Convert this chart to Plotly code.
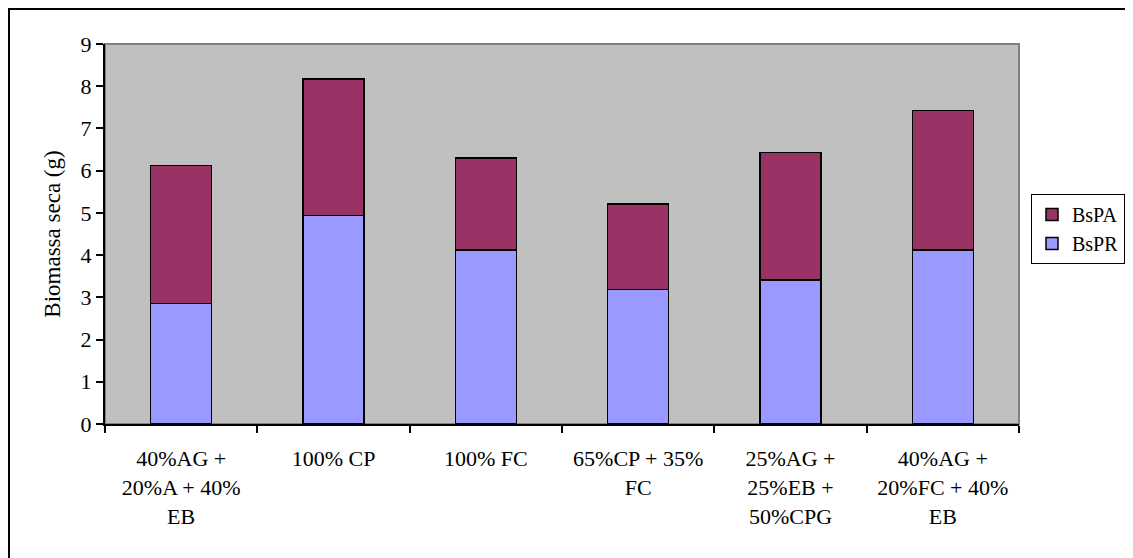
import plotly.graph_objects as go

categories = ["40%AG +<br>20%A + 40%<br>EB", "100% CP", "100% FC",
              "65%CP + 35%<br>FC", "25%AG +<br>25%EB +<br>50%CPG",
              "40%AG +<br>20%FC + 40%<br>EB"]
bspr = [2.85, 4.94, 4.12, 3.19, 3.41, 4.12]
bspa_total = [6.12, 8.17, 6.30, 5.21, 6.43, 7.43]
bspa = [round(t - r, 2) for t, r in zip(bspa_total, bspr)]

FONT = "Liberation Serif, Times New Roman, serif"

fig = go.Figure()
fig.add_trace(go.Bar(name="BsPR", x=categories, y=bspr,
                     marker=dict(color="#9999FF", line=dict(color="black", width=1.5))))
fig.add_trace(go.Bar(name="BsPA", x=categories, y=bspa,
                     marker=dict(color="#993366", line=dict(color="black", width=1.5))))

# page is shown with an 8px body margin, so figure coords = page coords - 8
OFF = 8
W, H = 1133, 558
L, R, T, B = 105 - OFF, W - (1019 - OFF), 44 - OFF, H - (424 - OFF)
pw, ph = W - L - R, H - T - B

def px2paper_x(px):
    return (px - OFF - L) / pw

def px2paper_y(py):
    return (H - B - (py - OFF)) / ph

fig.update_layout(
    width=W, height=H,
    margin=dict(l=L, r=R, t=T, b=B, autoexpand=False),
    barmode="stack", bargap=0.6,
    paper_bgcolor="white", plot_bgcolor="#C0C0C0",
    font=dict(family=FONT, size=22, color="black"),
    showlegend=True,
    legend=dict(xref="container", yref="container",
                x=(1031 - OFF) / W, y=1 - (194 - OFF) / H,
                xanchor="left", yanchor="top",
                bordercolor="black", borderwidth=1, bgcolor="white",
                traceorder="reversed", font=dict(size=20, family=FONT),
                itemwidth=30, tracegroupgap=0),
    xaxis=dict(showline=True, linecolor="black", linewidth=2,
               ticks="outside", ticklen=7, tickcolor="black", tickwidth=1.5,
               tickson="boundaries", showgrid=False, zeroline=False,
               ticklabelstandoff=14, automargin=False,
               tickfont=dict(size=22, family=FONT)),
    yaxis=dict(range=[0, 9], dtick=1, showline=True, linecolor="black", linewidth=2,
               ticks="outside", ticklen=7, tickcolor="black", tickwidth=1.5,
               showgrid=False, zeroline=False, automargin=False,
               title=dict(text="Biomassa seca (g)", font=dict(size=23, family=FONT), standoff=14),
               tickfont=dict(size=22, family=FONT)),
    shapes=[
        dict(type="rect", xref="paper", yref="paper", x0=0, x1=1, y0=0, y1=1,
             line=dict(color="#808080", width=2), layer="below"),
        dict(type="rect", xref="paper", yref="paper",
             x0=px2paper_x(9), x1=px2paper_x(1160), y0=px2paper_y(580), y1=px2paper_y(9),
             line=dict(color="black", width=2)),
    ],
)

fig.write_html("out.html")
